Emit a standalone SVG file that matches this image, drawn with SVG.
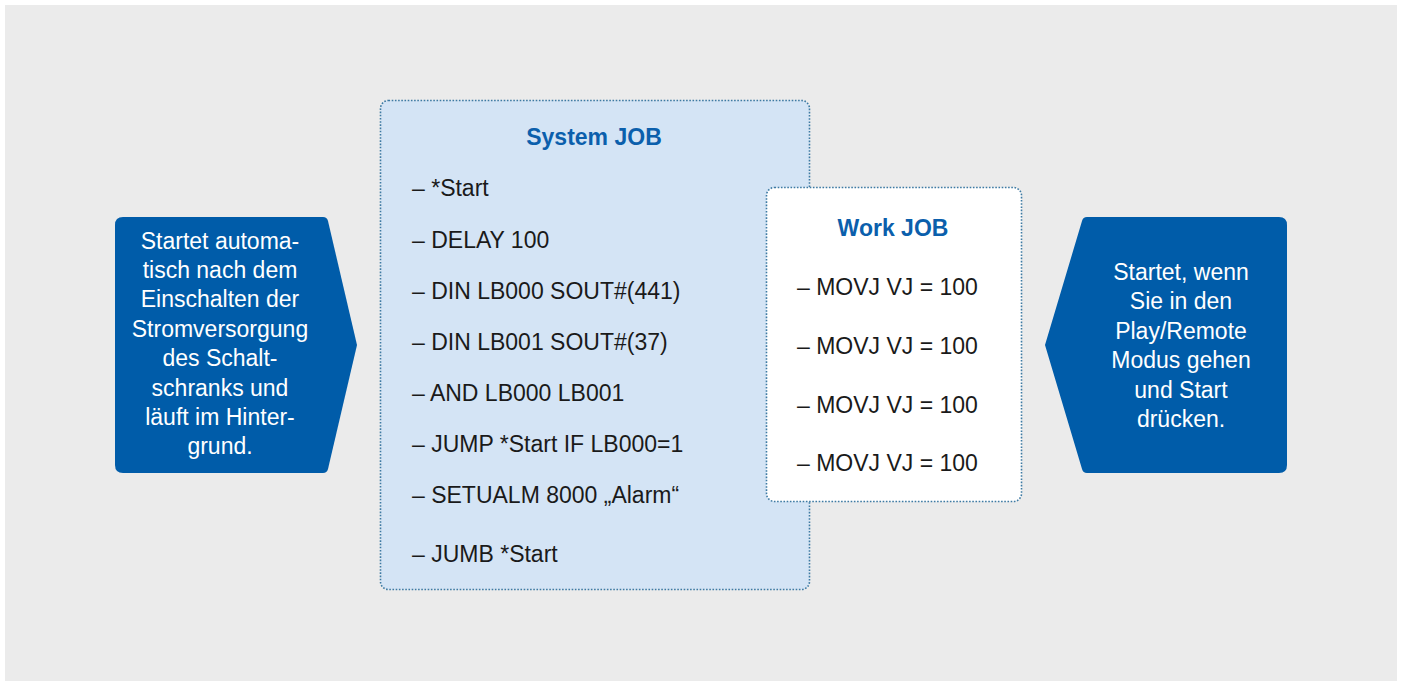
<svg xmlns="http://www.w3.org/2000/svg" width="1401" height="681" viewBox="0 0 1401 681">
<style>
.t{font-family:"Liberation Sans",Arial,sans-serif;font-size:23px;fill:#1a1a1a}
.h{font-family:"Liberation Sans",Arial,sans-serif;font-size:23px;font-weight:bold;fill:#0b5fac;text-anchor:middle}
.w{font-family:"Liberation Sans",Arial,sans-serif;font-size:23px;fill:#ffffff;text-anchor:middle}
.box{stroke:#3d7aa3;stroke-width:1.6;stroke-dasharray:1.6 1.6}
.call{fill:#005ca9}
</style>
<rect x="0" y="0" width="1401" height="681" fill="#ffffff"/>
<rect x="5" y="5" width="1392" height="676" fill="#ebebeb"/>
<g id="system-job">
<rect class="box" x="380.5" y="100.5" width="429" height="489" rx="8" fill="#d4e4f5"/>
<text class="h" x="594" y="145">System JOB</text>
<text class="t" x="412" y="196">– *Start</text>
<text class="t" x="412" y="248">– DELAY 100</text>
<text class="t" x="412" y="299">– DIN LB000 SOUT#(441)</text>
<text class="t" x="412" y="350">– DIN LB001 SOUT#(37)</text>
<text class="t" x="412" y="401">– AND LB000 LB001</text>
<text class="t" x="412" y="452">– JUMP *Start IF LB000=1</text>
<text class="t" x="412" y="503">– SETUALM 8000 „Alarm“</text>
<text class="t" x="412" y="562">– JUMB *Start</text>
</g>
<g id="work-job">
<rect class="box" x="766.5" y="187.5" width="255" height="314" rx="8" fill="#ffffff"/>
<text class="h" x="893" y="236">Work JOB</text>
<text class="t" x="797" y="295">– MOVJ VJ = 100</text>
<text class="t" x="797" y="354">– MOVJ VJ = 100</text>
<text class="t" x="797" y="413">– MOVJ VJ = 100</text>
<text class="t" x="797" y="471">– MOVJ VJ = 100</text>
</g>
<g id="left-callout">
<path class="call" d="M123,217 H323 Q327,217 328,221 L357,345 L328,469 Q327,473 323,473 H123 Q115,473 115,465 V225 Q115,217 123,217 Z"/>
<text class="w" x="220" y="249">Startet automa-</text>
<text class="w" x="220" y="278">tisch nach dem</text>
<text class="w" x="220" y="307">Einschalten der</text>
<text class="w" x="220" y="337">Stromversorgung</text>
<text class="w" x="220" y="366">des Schalt-</text>
<text class="w" x="220" y="396">schranks und</text>
<text class="w" x="220" y="425">läuft im Hinter-</text>
<text class="w" x="220" y="454">grund.</text>
</g>
<g id="right-callout">
<path class="call" d="M1087,217 H1279 Q1287,217 1287,225 V465 Q1287,473 1279,473 H1087 Q1083,473 1082,469 L1045,345 L1082,221 Q1083,217 1087,217 Z"/>
<text class="w" x="1181" y="280">Startet, wenn</text>
<text class="w" x="1181" y="309">Sie in den</text>
<text class="w" x="1181" y="339">Play/Remote</text>
<text class="w" x="1181" y="368">Modus gehen</text>
<text class="w" x="1181" y="398">und Start</text>
<text class="w" x="1181" y="427">drücken.</text>
</g>
<g id="connectors"></g>
</svg>
